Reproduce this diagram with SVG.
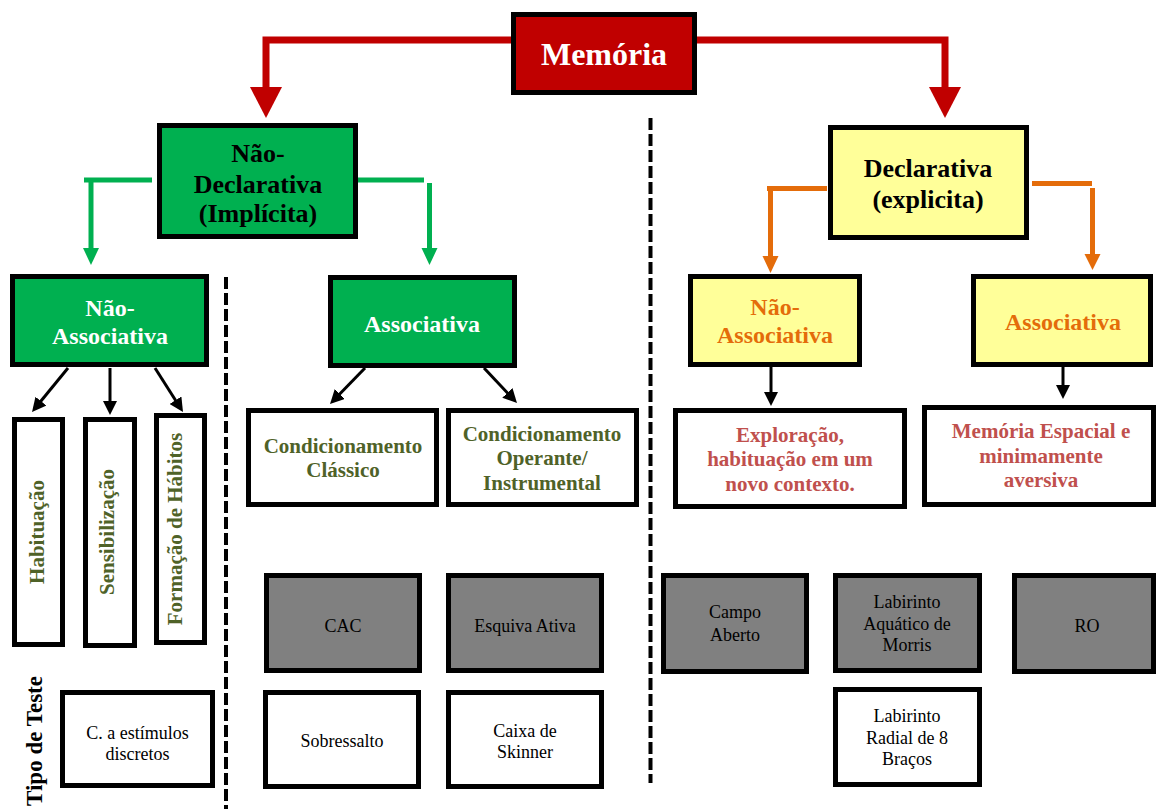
<svg xmlns="http://www.w3.org/2000/svg" width="1156" height="809" viewBox="0 0 1156 809">
<style>
text{font-family:"Liberation Serif","Times New Roman",serif;text-anchor:middle}
.b{font-weight:bold}
.box{stroke:#000;stroke-width:5}
.red{fill:#C00000}
.grn{fill:#00B050}
.yel{fill:#FFFF99}
.wht{fill:#fff}
.gry{fill:#808080}
.t18{font-size:18px;fill:#000}
.olive{fill:#4F6228;font-size:21px;font-weight:bold}
.rose{fill:#C0504D;font-size:21px;font-weight:bold}
.org{fill:#E46C0A;font-size:24px;font-weight:bold}
.dash{stroke:#000;stroke-width:4;stroke-dasharray:12 4;fill:none}
</style>
<defs>
<marker id="ah" markerUnits="userSpaceOnUse" markerWidth="14" markerHeight="14" refX="6" refY="7" orient="auto">
<path d="M0,0 L14,7 L0,14 z" fill="#000"/>
</marker>
</defs>

<g id="dividers">
<line class="dash" x1="226" y1="277" x2="226" y2="809"/>
<line class="dash" x1="650.5" y1="118" x2="650.5" y2="783"/>
</g>

<g id="connectors">
<g stroke="#C00000" stroke-width="7" fill="none">
<path d="M511,40 H266 V90"/>
<path d="M697,40 H945 V90"/>
</g>
<polygon points="250,87 282,87 266,118" fill="#C00000"/>
<polygon points="929,87 961,87 945,118" fill="#C00000"/>
<g stroke="#00B050" stroke-width="5">
<line x1="84" y1="180" x2="152" y2="180"/>
<line x1="91" y1="180" x2="91" y2="250"/>
<line x1="356" y1="180" x2="424" y2="180"/>
<line x1="429.5" y1="183" x2="429.5" y2="250"/>
</g>
<polygon points="83,248 99,248 91,265" fill="#00B050"/>
<polygon points="421.5,248 437.5,248 429.5,265" fill="#00B050"/>
<g stroke="#E46C0A" stroke-width="5">
<line x1="767" y1="188.5" x2="827" y2="188.5"/>
<line x1="770.5" y1="191" x2="770.5" y2="258"/>
<line x1="1032" y1="183.5" x2="1092" y2="183.5"/>
<line x1="1092.5" y1="188" x2="1092.5" y2="256"/>
</g>
<polygon points="762.5,256 778.5,256 770.5,273" fill="#E46C0A"/>
<polygon points="1084.5,254 1100.5,254 1092.5,270" fill="#E46C0A"/>
<g stroke="#000" stroke-width="3" marker-end="url(#ah)">
<line x1="68" y1="368" x2="37.1" y2="405.8"/>
<line x1="110" y1="368" x2="110" y2="407"/>
<line x1="155" y1="368" x2="178.7" y2="405.3"/>
<line x1="365" y1="368" x2="335.6" y2="398.3"/>
<line x1="484" y1="368" x2="511.5" y2="397.2"/>
<line x1="771" y1="367" x2="771" y2="398"/>
<line x1="1063" y1="367" x2="1063" y2="391"/>
</g>
</g>

<g id="memoria">
<rect class="box red" x="513.5" y="14.5" width="181" height="78"/>
<text class="b" x="604" y="65" font-size="32" fill="#fff">Memória</text>
</g>

<g id="nao-declarativa">
<rect class="box grn" x="159.5" y="125.5" width="196" height="111"/>
<text class="b" font-size="26" fill="#000"><tspan x="258" y="162">Não-</tspan><tspan x="258" y="193">Declarativa</tspan><tspan x="258" y="222">(Implícita)</tspan></text>
</g>

<g id="nd-nao-associativa">
<rect class="box grn" x="12.5" y="276.5" width="194" height="88"/>
<text class="b" font-size="24" fill="#fff"><tspan x="110" y="316">Não-</tspan><tspan x="110" y="344">Associativa</tspan></text>
</g>

<g id="nd-associativa">
<rect class="box grn" x="330.5" y="277.5" width="184" height="88"/>
<text class="b" x="422" y="332" font-size="24" fill="#fff">Associativa</text>
</g>

<g id="habituacao">
<rect class="box wht" x="14.5" y="419.5" width="48" height="225"/>
<text class="olive" transform="translate(44,532) rotate(-90)">Habituação</text>
</g>
<g id="sensibilizacao">
<rect class="box wht" x="85.5" y="419.5" width="49" height="226"/>
<text class="olive" transform="translate(114,532) rotate(-90)">Sensibilização</text>
</g>
<g id="formacao-habitos">
<rect class="box wht" x="156.5" y="415.5" width="48" height="227"/>
<text class="olive" transform="translate(182,529) rotate(-90)">Formação de Hábitos</text>
</g>

<g id="tipo-de-teste">
<text class="b" font-size="23" fill="#000" transform="translate(42,741) rotate(-90)">Tipo de Teste</text>
</g>

<g id="estimulos-discretos">
<rect class="box wht" x="62.5" y="692.5" width="150" height="93"/>
<text class="t18"><tspan x="137.5" y="739">C. a estímulos</tspan><tspan x="137.5" y="760">discretos</tspan></text>
</g>

<g id="cond-classico">
<rect class="box wht" x="248.5" y="410.5" width="188" height="94"/>
<text class="olive"><tspan x="343" y="453">Condicionamento</tspan><tspan x="343" y="477">Clássico</tspan></text>
</g>
<g id="cond-operante">
<rect class="box wht" x="448.5" y="410.5" width="188" height="94"/>
<text class="olive"><tspan x="542" y="441">Condicionamento</tspan><tspan x="542" y="465">Operante/</tspan><tspan x="542" y="490">Instrumental</tspan></text>
</g>

<g id="cac">
<rect class="box gry" x="266.5" y="575.5" width="153" height="95"/>
<text class="t18" x="343" y="632">CAC</text>
</g>
<g id="esquiva-ativa">
<rect class="box gry" x="448.5" y="575.5" width="153" height="95"/>
<text class="t18" x="525" y="632">Esquiva Ativa</text>
</g>
<g id="sobressalto">
<rect class="box wht" x="265.5" y="692.5" width="153" height="94"/>
<text class="t18" x="342" y="747">Sobressalto</text>
</g>
<g id="caixa-skinner">
<rect class="box wht" x="448.5" y="692.5" width="153" height="94"/>
<text class="t18"><tspan x="525" y="737">Caixa de</tspan><tspan x="525" y="758">Skinner</tspan></text>
</g>

<g id="declarativa">
<rect class="box yel" x="830.5" y="127.5" width="196" height="110"/>
<text class="b" font-size="26" fill="#000"><tspan x="928" y="177">Declarativa</tspan><tspan x="928" y="208">(explicita)</tspan></text>
</g>
<g id="d-nao-associativa">
<rect class="box yel" x="690.5" y="276.5" width="169" height="88"/>
<text class="org"><tspan x="775" y="315">Não-</tspan><tspan x="775" y="343">Associativa</tspan></text>
</g>
<g id="d-associativa">
<rect class="box yel" x="973.5" y="276.5" width="177" height="88"/>
<text class="org" x="1063" y="330">Associativa</text>
</g>

<g id="exploracao">
<rect class="box wht" x="675.5" y="410.5" width="229" height="96"/>
<text class="rose"><tspan x="790" y="442">Exploração,</tspan><tspan x="790" y="466">habituação em um</tspan><tspan x="790" y="491">novo contexto.</tspan></text>
</g>
<g id="memoria-espacial">
<rect class="box wht" x="924.5" y="407.5" width="229" height="97"/>
<text class="rose"><tspan x="1041" y="438">Memória Espacial e</tspan><tspan x="1041" y="463">minimamente</tspan><tspan x="1041" y="487">aversiva</tspan></text>
</g>

<g id="campo-aberto">
<rect class="box gry" x="663.5" y="575.5" width="143" height="96"/>
<text class="t18"><tspan x="735" y="618">Campo</tspan><tspan x="735" y="641">Aberto</tspan></text>
</g>
<g id="labirinto-aquatico">
<rect class="box gry" x="835.5" y="575.5" width="144" height="95"/>
<text class="t18"><tspan x="907" y="608">Labirinto</tspan><tspan x="907" y="630">Aquático de</tspan><tspan x="907" y="651">Morris</tspan></text>
</g>
<g id="ro">
<rect class="box gry" x="1014.5" y="575.5" width="139" height="96"/>
<text class="t18" x="1087" y="632">RO</text>
</g>
<g id="labirinto-radial">
<rect class="box wht" x="835.5" y="689.5" width="144" height="95"/>
<text class="t18"><tspan x="907" y="722">Labirinto</tspan><tspan x="907" y="744">Radial de 8</tspan><tspan x="907" y="765">Braços</tspan></text>
</g>
</svg>
